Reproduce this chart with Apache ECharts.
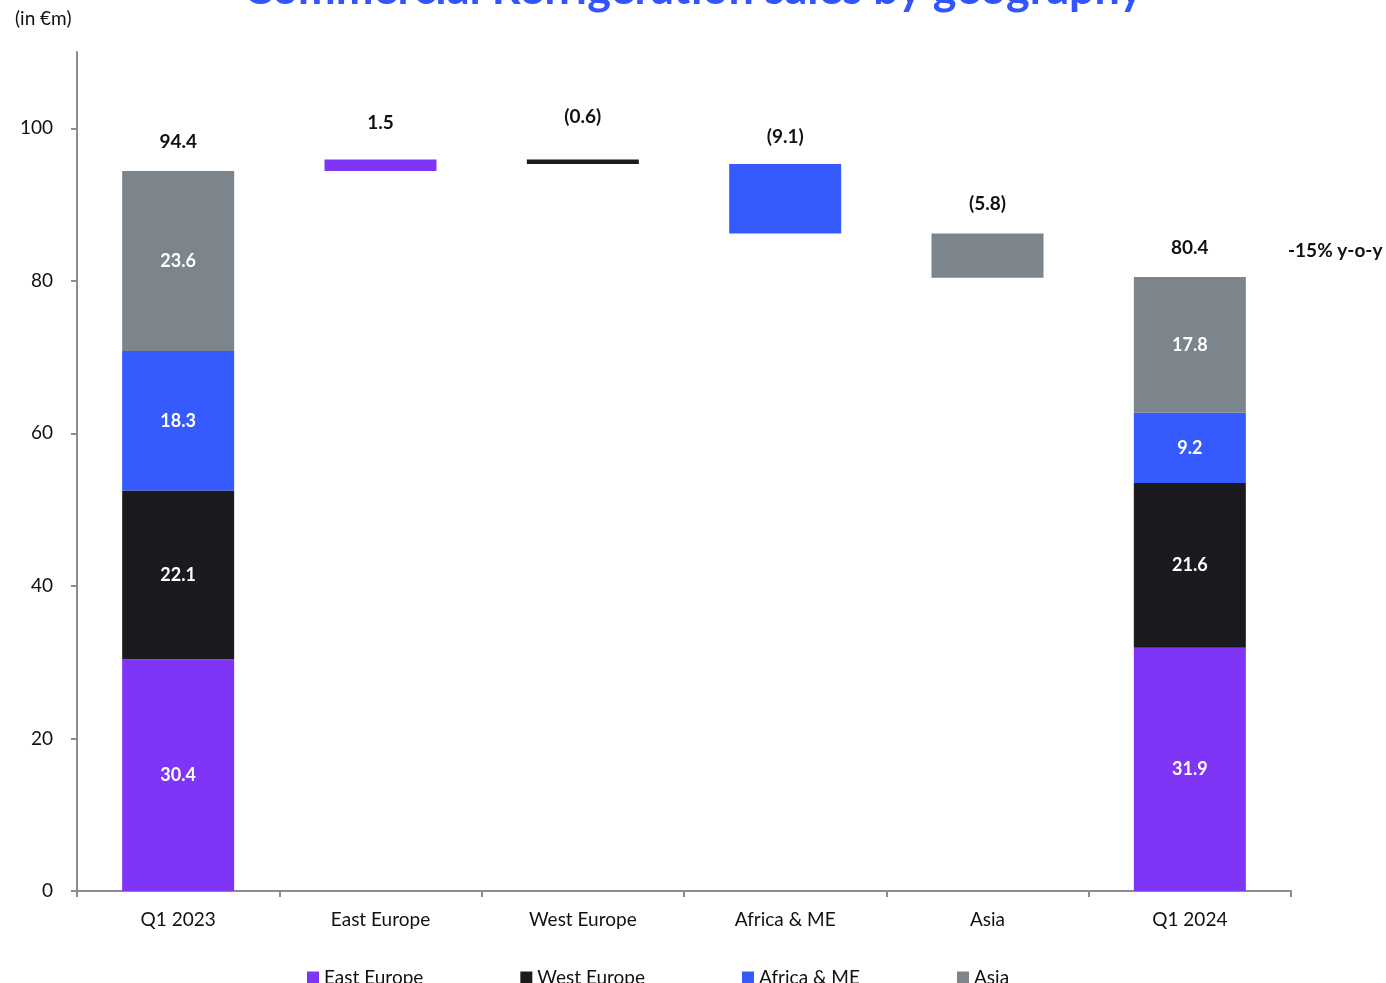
<!DOCTYPE html>
<html>
<head>
<meta charset="utf-8">
<title>Commercial Refrigeration sales by geography</title>
<script src="https://cdn.jsdelivr.net/npm/echarts@6/dist/echarts.min.js"></script>
<style>
  html, body { margin: 0; padding: 0; background: #fff; }
  #chart { width: 1386px; height: 983px; }
</style>
</head>
<body>
<div id="chart"></div>
<script>
// categories on the x axis
const categories = ['Q1 2023', 'East Europe', 'West Europe', 'Africa & ME', 'Asia', 'Q1 2024'];
// geography split of the two quarter totals
const regions = ['East Europe', 'West Europe', 'Africa & ME', 'Asia'];
const q1_2023 = [30.4, 22.1, 18.3, 23.6];
const q1_2024 = [31.9, 21.6, 9.2, 17.8];
// bridge deltas per region (same order as regions)
const deltas = [1.5, -0.6, -9.1, -5.8];
// labels printed above each column
const topLabels = ['94.4', '1.5', '(0.6)', '(9.1)', '(5.8)', '80.4'];
const yTicks = [0, 20, 40, 60, 80, 100];

const colors = ['#7f35f6', '#1b1b1f', '#355bff', '#7b858b'];
const FONT = 'Lato, "Open Sans", sans-serif';

// invisible base of each bridge bar = running total
const base = [0];
let running = q1_2023.reduce((a, b) => a + b, 0);
deltas.forEach(d => {
  const next = running + d;
  base.push(+Math.min(running, next).toFixed(1));
  running = next;
});
base.push(0);

// one stacked series per region
const regionSeries = regions.map((name, i) => {
  const data = categories.map((c, ci) => {
    if (ci === 0) return q1_2023[i];
    if (ci === categories.length - 1) return q1_2024[i];
    return ci - 1 === i ? Math.abs(deltas[i]) : '-';
  });
  return {
    name,
    type: 'bar',
    stack: 'wf',
    barWidth: 112,
    itemStyle: { color: colors[i] },
    label: {
      show: true,
      position: 'inside',
      color: '#fff',
      fontFamily: FONT,
      fontWeight: 'bold',
      fontSize: 18,
      formatter: p => (p.dataIndex === 0 || p.dataIndex === categories.length - 1) ? p.value.toFixed(1) : ''
    },
    data
  };
});

// extra gap above the thin bridge bars
const labelGap = [20, 27, 33, 18, 20, 20];

const chart = echarts.init(document.getElementById('chart'));
chart.setOption({
  animation: false,
  textStyle: { fontFamily: FONT },
  grid: { left: 77, right: 95, top: 52, bottom: 92 },
  legend: {
    data: regions,
    left: 302,
    bottom: -9,
    itemWidth: 12,
    itemHeight: 12,
    itemGap: 97,
    icon: 'rect',
    textStyle: { fontSize: 19, color: '#111', fontFamily: FONT }
  },
  xAxis: {
    type: 'category',
    data: categories,
    axisLine: { lineStyle: { color: '#8c8c8c', width: 2 } },
    axisTick: { show: true, length: 6, lineStyle: { color: '#8c8c8c', width: 2 } },
    axisLabel: { fontSize: 19, color: '#111', margin: 19, fontFamily: FONT }
  },
  yAxis: {
    type: 'value',
    min: 0,
    max: 110,
    splitLine: { show: false },
    axisLine: { show: true, lineStyle: { color: '#8c8c8c', width: 2 } },
    axisTick: { show: true, length: 6, customValues: yTicks, lineStyle: { color: '#8c8c8c', width: 2 } },
    axisLabel: { fontSize: 19, color: '#111', margin: 24, customValues: yTicks, fontFamily: FONT }
  },
  title: {
    text: 'Commercial Refrigeration sales by geography',
    left: 'center',
    top: -38,
    textStyle: { color: '#3355ff', fontSize: 45, fontWeight: 'bold', fontFamily: FONT }
  },
  graphic: [
    { type: 'text', left: 15, top: 9, style: { text: '(in €m)', fontSize: 19, fill: '#111', fontFamily: FONT } },
    { type: 'text', left: 1288, top: 241, style: { text: '-15% y-o-y', fontSize: 19, fontWeight: 'bold', fill: '#111', fontFamily: FONT } }
  ],
  series: [
    {
      name: 'base',
      type: 'bar',
      stack: 'wf',
      barWidth: 112,
      itemStyle: { color: 'transparent' },
      emphasis: { disabled: true },
      data: base
    },
    ...regionSeries,
    {
      // zero-height cap sitting on top of each stack, carries the top label
      name: 'cap',
      type: 'bar',
      stack: 'wf',
      barWidth: 112,
      itemStyle: { color: 'transparent' },
      emphasis: { disabled: true },
      label: {
        show: true,
        position: 'top',
        color: '#111',
        fontWeight: 'bold',
        fontSize: 19,
        fontFamily: FONT,
        formatter: p => topLabels[p.dataIndex]
      },
      data: categories.map((c, i) => ({ value: 0, label: { distance: labelGap[i] } }))
    }
  ]
});
</script>
</body>
</html>
